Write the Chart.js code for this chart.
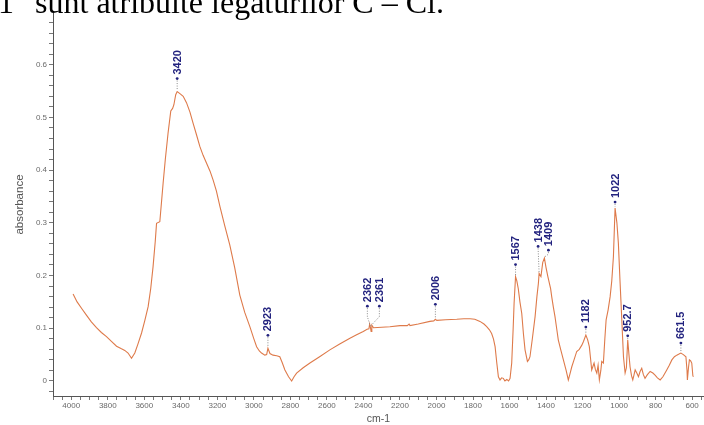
<!DOCTYPE html>
<html>
<head>
<meta charset="utf-8">
<script src="https://cdn.jsdelivr.net/npm/chart.js@4.4.1/dist/chart.umd.min.js"></script>
<style>
  html, body { margin: 0; padding: 0; background: #fff; overflow: hidden; }
  #wrap { position: relative; width: 704px; height: 425px; overflow: hidden; }
  #c { position: absolute; left: 0; top: 0; }
  #caption {
    position: absolute; left: -2px; top: -14px;
    font-family: "Liberation Serif", "Times New Roman", serif;
    font-size: 32px; line-height: 32px; color: #000; white-space: nowrap;
  }
</style>
</head>
<body>
<div id="wrap">
  <canvas id="c" width="704" height="425"></canvas>
  <div id="caption">1" sunt atribuite legăturilor C – Cl.</div>
</div>
<script>
// ---- data (wavenumber in cm-1, absorbance) ----
const wavenumbers = [
  3990, 3968, 3940, 3917, 3890, 3862, 3835, 3807, 3780, 3752, 3725, 3707, 3689, 3670, 3652, 3635,
  3615, 3597, 3579, 3565, 3552, 3540, 3533, 3515, 3497, 3485, 3470, 3455, 3445, 3438, 3428, 3420,
  3405, 3387, 3369, 3350, 3333, 3315, 3296, 3278, 3259, 3240, 3223, 3205, 3186, 3160, 3132, 3105,
  3077, 3050, 3022, 3000, 2985, 2970, 2958, 2940, 2930, 2923, 2912, 2895, 2875, 2858, 2845, 2830,
  2810, 2793, 2780, 2766, 2730, 2693, 2640, 2584, 2530, 2474, 2440, 2401, 2380, 2370, 2366, 2362,
  2358, 2354, 2345, 2300, 2255, 2200, 2160, 2150, 2145, 2100, 2036, 2015, 2006, 1998, 1950, 1889,
  1850, 1816, 1790, 1762, 1740, 1725, 1710, 1698, 1688, 1679, 1670, 1661, 1652, 1643, 1634, 1625,
  1615, 1605, 1597, 1588, 1580, 1575, 1567, 1560, 1552, 1543, 1533, 1524, 1515, 1502, 1495, 1488,
  1475, 1460, 1450, 1442, 1438, 1428, 1418, 1409, 1400, 1390, 1375, 1369, 1360, 1351, 1342, 1333,
  1320, 1305, 1290, 1278, 1270, 1259, 1245, 1232, 1218, 1204, 1195, 1182, 1172, 1163, 1157, 1150,
  1143, 1137, 1130, 1122, 1115, 1108, 1100, 1095, 1086, 1078, 1071, 1060, 1049, 1040, 1031, 1022,
  1012, 1004, 995, 985, 976, 967, 960, 952.7, 946, 940, 932, 925, 918, 912, 903, 894,
  885, 876, 867, 858, 845, 830, 815, 803, 790, 775, 760, 739, 725, 711, 697, 684,
  672, 661.5, 648, 634, 628, 626, 620, 615, 608, 602, 596, 593
];
const absorbance = [
  0.165, 0.150, 0.136, 0.125, 0.112, 0.101, 0.092, 0.084, 0.075, 0.066, 0.061, 0.058, 0.053, 0.043, 0.053, 0.070,
  0.091, 0.115, 0.141, 0.175, 0.217, 0.265, 0.299, 0.302, 0.375, 0.420, 0.470, 0.512, 0.517, 0.524, 0.543, 0.549,
  0.545, 0.540, 0.528, 0.510, 0.489, 0.468, 0.445, 0.428, 0.413, 0.398, 0.381, 0.360, 0.331, 0.295, 0.258, 0.215,
  0.163, 0.130, 0.103, 0.080, 0.065, 0.057, 0.053, 0.049, 0.050, 0.062, 0.052, 0.049, 0.048, 0.046, 0.035, 0.021,
  0.008, 0.000, 0.008, 0.015, 0.025, 0.034, 0.046, 0.059, 0.070, 0.081, 0.087, 0.094, 0.098, 0.099, 0.108, 0.102,
  0.094, 0.106, 0.101, 0.102, 0.103, 0.105, 0.105, 0.108, 0.105, 0.108, 0.113, 0.114, 0.117, 0.115, 0.116, 0.117,
  0.118, 0.118, 0.117, 0.113, 0.108, 0.103, 0.097, 0.090, 0.080, 0.065, 0.035, 0.008, 0.002, 0.006, 0.005, 0.000,
  0.003, 0.000, 0.005, 0.034, 0.100, 0.147, 0.198, 0.190, 0.175, 0.150, 0.128, 0.090, 0.059, 0.037, 0.040, 0.046,
  0.080, 0.122, 0.160, 0.185, 0.204, 0.198, 0.225, 0.233, 0.215, 0.198, 0.175, 0.160, 0.140, 0.122, 0.100, 0.078,
  0.060, 0.040, 0.020, 0.002, 0.012, 0.027, 0.042, 0.056, 0.060, 0.068, 0.075, 0.087, 0.078, 0.065, 0.045, 0.021,
  0.028, 0.034, 0.022, 0.015, 0.030, 0.002, 0.020, 0.037, 0.034, 0.080, 0.116, 0.135, 0.160, 0.190, 0.236, 0.328,
  0.300, 0.262, 0.190, 0.115, 0.046, 0.015, 0.025, 0.078, 0.050, 0.027, 0.010, 0.002, 0.012, 0.021, 0.015, 0.008,
  0.018, 0.024, 0.012, 0.005, 0.012, 0.018, 0.015, 0.011, 0.006, 0.002, 0.008, 0.021, 0.030, 0.040, 0.046, 0.049,
  0.051, 0.053, 0.050, 0.046, 0.020, 0.002, 0.025, 0.040, 0.038, 0.034, 0.010, 0.008
];
const xTickLabels = ['4000','3800','3600','3400','3200','3000','2800','2600','2400','2200','2000','1800','1600','1400','1200','1000','800','600'];
const yTickLabels = ['0','0.1','0.2','0.3','0.4','0.5','0.6'];
const xMinorStep = 50;     // cm-1 between tick marks
const yMinorStep = 0.02;   // absorbance between tick marks
const peakWavenumbers = [3420, 2923, 2362, 2361, 2006, 1567, 1438, 1409, 1182, 1022, 952.7, 661.5];
const peakLabels = ['3420','2923','2362','2361','2006','1567','1438','1409','1182','1022','952.7','661.5'];
const xTitle = 'cm-1';
const yTitle = 'absorbance';

// ---- peak label plugin ----
const peakLabelPlugin = {
  id: 'peakLabels',
  afterDatasetsDraw(chart, args, opts) {
    const ctx = chart.ctx;
    const xs = chart.scales.x, ys = chart.scales.y;
    ctx.save();
    peakWavenumbers.forEach((wn, i) => {
      let best = 0, bd = Infinity;
      wavenumbers.forEach((w, j) => { const d = Math.abs(w - wn); if (d < bd) { bd = d; best = j; } });
      const px = xs.getPixelForValue(wavenumbers[best]);
      const py = ys.getPixelForValue(absorbance[best]);
      const lab = peakLabels[i];
      const lift = (opts.lift && opts.lift[lab] != null) ? opts.lift[lab] : 12;
      const shift = (opts.shift && opts.shift[lab] != null) ? opts.shift[lab] : 0;
      const lx = px + shift;
      const dotY = py - lift;
      ctx.strokeStyle = opts.leaderColor;
      ctx.lineWidth = 1;
      ctx.setLineDash([1, 1.5]);
      ctx.beginPath();
      ctx.moveTo(lx, dotY + 2);
      if (Math.abs(shift) > 2) {
        ctx.lineTo(lx, dotY + lift * 0.5);
      }
      ctx.lineTo(px, py - 1);
      ctx.stroke();
      ctx.setLineDash([]);
      ctx.fillStyle = opts.color;
      ctx.beginPath();
      ctx.arc(lx, dotY, 1.4, 0, Math.PI * 2);
      ctx.fill();
      ctx.save();
      ctx.translate(lx, dotY - 4);
      ctx.rotate(-Math.PI / 2);
      ctx.font = opts.font;
      ctx.textAlign = 'left';
      ctx.textBaseline = 'middle';
      ctx.fillText(lab, 0, 0.5);
      ctx.restore();
    });
    ctx.restore();
  }
};

const axisFont = { family: '"Liberation Sans", Arial, sans-serif', size: 8 };
const tickTextColor = '#6a6a6a';

function buildTicks(lo, hi, step, digits) {
  const out = [];
  const k0 = Math.ceil(lo / step - 1e-9), k1 = Math.floor(hi / step + 1e-9);
  for (let k = k0; k <= k1; k++) out.push({ value: +(k * step).toFixed(digits) });
  return out;
}

new Chart(document.getElementById('c'), {
  type: 'line',
  data: {
    datasets: [{
      data: wavenumbers.map((w, i) => ({ x: w, y: absorbance[i] })),
      borderColor: 'rgb(222,122,74)',
      borderWidth: 1.1,
      pointRadius: 0,
      tension: 0,
      fill: false
    }]
  },
  options: {
    responsive: false,
    animation: false,
    devicePixelRatio: 1,
    layout: { padding: { top: 13, right: 0, left: 0, bottom: 0 } },
    plugins: {
      legend: { display: false },
      tooltip: { enabled: false },
      peakLabels: {
        color: '#23237f',
        leaderColor: '#8c8c8c',
        font: 'bold 11px "Liberation Sans", Arial, sans-serif',
        lift: { '3420': 13, '2923': 13, '2362': 21, '2361': 21, '2006': 15, '1567': 12, '1438': 27, '1409': 8, '1182': 8, '1022': 6, '952.7': 4, '661.5': 10 },
        shift: { '2362': -3, '2361': 9, '1438': -1, '1409': 4 }
      }
    },
    scales: {
      x: {
        type: 'linear',
        reverse: true,
        min: 535,
        max: 4100,
        bounds: 'data',
        afterFit: (s) => { s.height = 29; },
        afterBuildTicks: (s) => { s.ticks = buildTicks(s.min, s.max, xMinorStep, 0); },
        border: { display: true, color: '#555', width: 1 },
        grid: { display: true, drawOnChartArea: false, drawTicks: true, tickLength: 4, tickColor: '#777', tickWidth: 1 },
        ticks: {
          autoSkip: false,
          maxRotation: 0,
          minRotation: 0,
          padding: 1,
          color: tickTextColor,
          font: axisFont,
          callback: (v) => { const s = String(Math.round(v)); return xTickLabels.includes(s) ? s : ''; }
        },
        title: { display: true, text: xTitle, color: '#555', font: { family: '"Liberation Sans", Arial, sans-serif', size: 10.5 }, padding: { top: 0, bottom: 0 } }
      },
      y: {
        type: 'linear',
        min: -0.0285,
        max: 0.698,
        bounds: 'data',
        afterFit: (s) => { s.width = 53; },
        afterBuildTicks: (s) => { s.ticks = buildTicks(s.min, s.max, yMinorStep, 2); },
        border: { display: true, color: '#555', width: 1 },
        grid: { display: true, drawOnChartArea: false, drawTicks: true, tickLength: 4, tickColor: '#777', tickWidth: 1 },
        ticks: {
          autoSkip: false,
          padding: 2,
          color: tickTextColor,
          font: axisFont,
          callback: (v) => { const s = String(Math.round(v * 100) / 100); return yTickLabels.includes(s) ? s : ''; }
        },
        title: { display: true, text: yTitle, color: '#555', font: { family: '"Liberation Sans", Arial, sans-serif', size: 11.5 }, padding: { top: 13, bottom: 0 } }
      }
    }
  },
  plugins: [peakLabelPlugin]
});
</script>
</body>
</html>
